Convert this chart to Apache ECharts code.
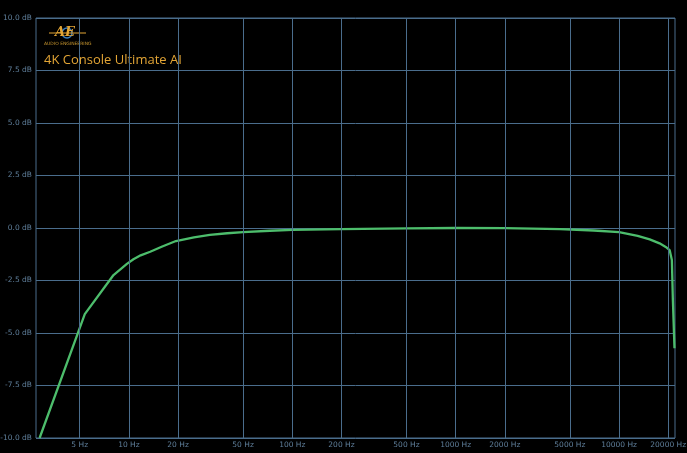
<!DOCTYPE html>
<html>
<head>
<meta charset="utf-8">
<script src="https://cdn.jsdelivr.net/npm/echarts@6/dist/echarts.min.js"></script>
<style>html,body{margin:0;padding:0;background:#000;}#c{width:687px;height:453px;}</style>
</head>
<body>
<div id="c"></div>
<script>
const freqs = [2.84, 5.37, 8.05, 9.72, 10.66, 11.8, 13.5, 16, 19.4, 25, 31.3, 40, 50, 73, 100, 200, 500, 1000, 2000, 4350, 7000, 10000, 13000, 15400, 17700, 19300, 20400, 21050, 21350, 21840];
const gains = [-10, -4.1, -2.24, -1.71, -1.49, -1.3, -1.13, -0.88, -0.62, -0.45, -0.33, -0.25, -0.2, -0.13, -0.09, -0.05, -0.02, 0, -0.01, -0.05, -0.12, -0.2, -0.38, -0.54, -0.73, -0.9, -1.05, -1.52, -3.43, -5.73];
const xTicks = [5, 10, 20, 50, 100, 200, 500, 1000, 2000, 5000, 10000, 20000];
const yTicks = [-10, -7.5, -5, -2.5, 0, 2.5, 5, 7.5, 10];
const title = '4K Console Ultimate AI';

const gridColor = '#4a6d8c';
const labelColor = '#5f7f9b';

const chart = echarts.init(document.getElementById('c'));
chart.setOption({
  backgroundColor: '#000',
  animation: false,
  grid: { left: 36, top: 18, right: 12, bottom: 15, outerBoundsMode: 'none', containLabel: false, show: true, borderColor: gridColor, borderWidth: 1, backgroundColor: 'transparent' },
  xAxis: {
    type: 'log', min: 2.7, max: 22000, logBase: 10,
    axisLine: { show: false }, axisTick: { show: false }, axisLabel: { show: false }, splitLine: { show: false }
  },
  yAxis: {
    type: 'value', min: yTicks[0], max: yTicks[yTicks.length - 1], interval: 2.5,
    axisLine: { show: false }, axisTick: { show: false },
    axisLabel: { color: labelColor, fontSize: 7.5, fontFamily: 'DejaVu Sans', margin: 4, formatter: v => v.toFixed(1) + ' dB' },
    splitLine: { show: true, lineStyle: { color: gridColor, width: 1 } }
  },
  graphic: [
    { type: 'text', left: 44, top: 54, style: { text: title, fill: '#e3a535', font: '13px "Open Sans"' } },
    { type: 'circle', shape: { cx: 67, cy: 33, r: 5 }, style: { fill: 'none', stroke: '#3a7fc0', lineWidth: 1.5 } },
    { type: 'line', shape: { x1: 49, y1: 33, x2: 86, y2: 33 }, style: { stroke: '#e3a535', lineWidth: 1 } },
    { type: 'text', x: 55, y: 26, style: { text: 'AE', fill: '#e3a535', font: 'italic bold 13px "DejaVu Serif"', letterSpacing: 1 } },
    { type: 'text', x: 44, y: 41, style: { text: 'AUDIO ENGINEERING', fill: '#c8962e', font: '4.5px "DejaVu Sans"' } }
  ],
  series: [{
    type: 'line',
    data: freqs.map((f, i) => [f, gains[i]]),
    showSymbol: false,
    smooth: false,
    lineStyle: { color: '#4dbd6c', width: 2.3 },
    z: 3,
    markLine: {
      silent: true, symbol: 'none', animation: false,
      lineStyle: { color: gridColor, width: 1, type: 'solid' },
      label: { show: true, position: 'start', distance: 3, color: labelColor, fontSize: 7.5, fontFamily: 'DejaVu Sans', formatter: p => p.value + ' Hz' },
      data: xTicks.map(v => ({ xAxis: v }))
    }
  }]
});
</script>
</body>
</html>
